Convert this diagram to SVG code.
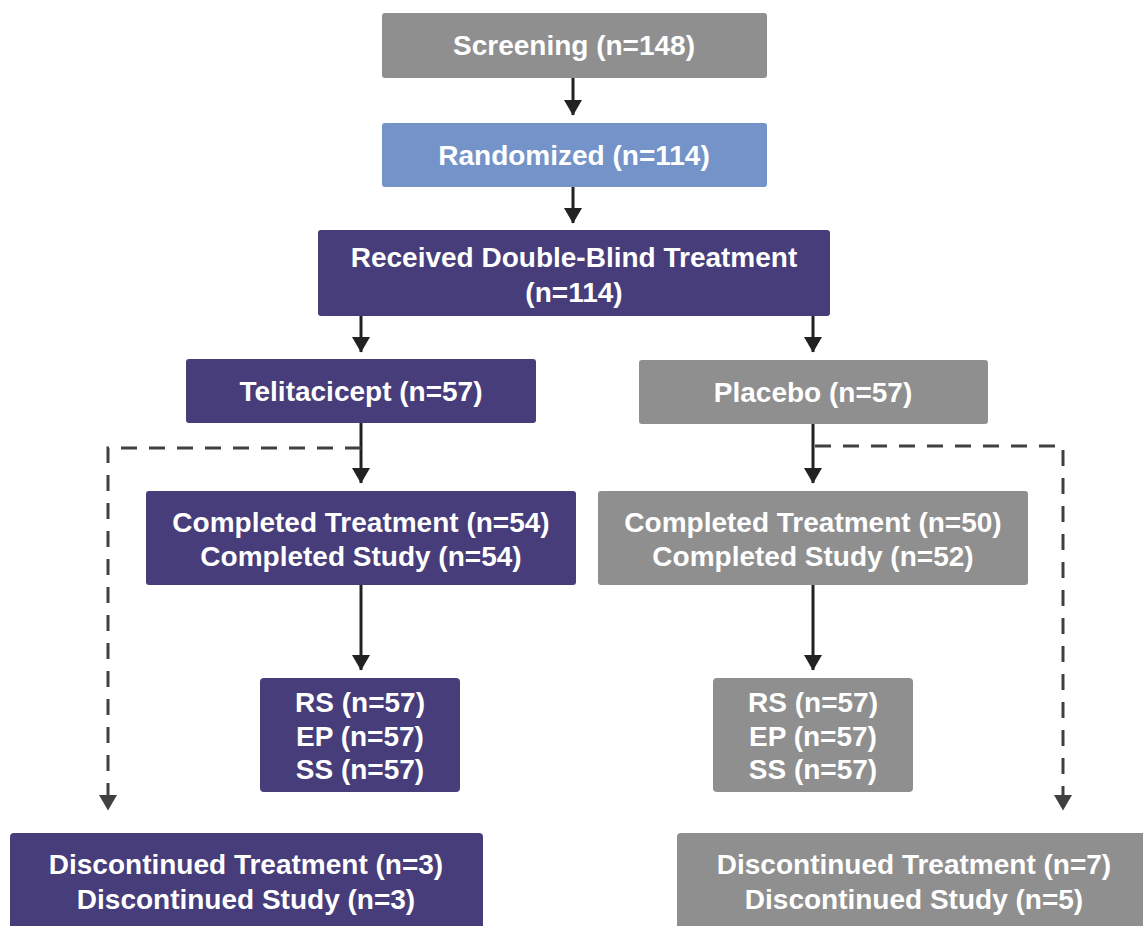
<svg xmlns="http://www.w3.org/2000/svg" width="1143" height="926" viewBox="0 0 1143 926">
  <defs>
    <style>
      .gray { fill: #8f8f8f; }
      .blue { fill: #7393c9; }
      .purple { fill: #463d7a; }
      .lbl { fill: #ffffff; font-family: "Liberation Sans", Arial, sans-serif; font-weight: bold; font-size: 28px; text-anchor: middle; }
      .solid { stroke: #222222; stroke-width: 3; fill: none; }
      .dash { stroke: #404040; stroke-width: 3; fill: none; stroke-dasharray: 16 12; }
    </style>
    <marker id="arrowSolid" markerWidth="6" markerHeight="6" refX="5" refY="3" orient="auto" markerUnits="strokeWidth">
      <path d="M0,0 L5.2,3 L0,6 Z" fill="#222222"/>
    </marker>
    <marker id="arrowDash" markerWidth="6" markerHeight="6" refX="5" refY="3" orient="auto" markerUnits="strokeWidth">
      <path d="M0,0 L5.2,3 L0,6 Z" fill="#404040"/>
    </marker>
  </defs>

  <rect width="1143" height="926" fill="#ffffff"/>

  <g id="connectors">
    <line class="solid" x1="573" y1="78" x2="573" y2="115" marker-end="url(#arrowSolid)"/>
    <line class="solid" x1="573" y1="187" x2="573" y2="223" marker-end="url(#arrowSolid)"/>
    <line class="solid" x1="361" y1="316" x2="361" y2="352" marker-end="url(#arrowSolid)"/>
    <line class="solid" x1="813" y1="316" x2="813" y2="352" marker-end="url(#arrowSolid)"/>
    <line class="solid" x1="361" y1="423" x2="361" y2="483" marker-end="url(#arrowSolid)"/>
    <line class="solid" x1="813" y1="424" x2="813" y2="483" marker-end="url(#arrowSolid)"/>
    <line class="solid" x1="361" y1="585" x2="361" y2="670" marker-end="url(#arrowSolid)"/>
    <line class="solid" x1="813" y1="585" x2="813" y2="670" marker-end="url(#arrowSolid)"/>
    <path class="dash" d="M361,448 H108 V810" marker-end="url(#arrowDash)"/>
    <path class="dash" d="M815,446 H1063 V810" marker-end="url(#arrowDash)"/>
  </g>

  <g id="screening">
    <rect class="gray" x="382" y="13" width="385" height="65" rx="3"/>
    <text class="lbl" x="574" y="55">Screening (n=148)</text>
  </g>

  <g id="randomized">
    <rect class="blue" x="382" y="123" width="385" height="64" rx="3"/>
    <text class="lbl" x="574" y="165">Randomized (n=114)</text>
  </g>

  <g id="double-blind">
    <rect class="purple" x="318" y="230" width="512" height="86" rx="3"/>
    <text class="lbl" x="574" y="267">Received Double-Blind Treatment</text>
    <text class="lbl" x="574" y="302">(n=114)</text>
  </g>

  <g id="telitacicept">
    <rect class="purple" x="186" y="359" width="350" height="64" rx="3"/>
    <text class="lbl" x="361" y="401">Telitacicept (n=57)</text>
  </g>

  <g id="placebo">
    <rect class="gray" x="639" y="360" width="349" height="64" rx="3"/>
    <text class="lbl" x="813" y="402">Placebo (n=57)</text>
  </g>

  <g id="completed-telitacicept">
    <rect class="purple" x="146" y="491" width="430" height="94" rx="3"/>
    <text class="lbl" x="361" y="532">Completed Treatment (n=54)</text>
    <text class="lbl" x="361" y="566">Completed Study (n=54)</text>
  </g>

  <g id="completed-placebo">
    <rect class="gray" x="598" y="491" width="430" height="94" rx="3"/>
    <text class="lbl" x="813" y="532">Completed Treatment (n=50)</text>
    <text class="lbl" x="813" y="566">Completed Study (n=52)</text>
  </g>

  <g id="sets-telitacicept">
    <rect class="purple" x="260" y="678" width="200" height="114" rx="4"/>
    <text class="lbl" x="360" y="712">RS (n=57)</text>
    <text class="lbl" x="360" y="746">EP (n=57)</text>
    <text class="lbl" x="360" y="779">SS (n=57)</text>
  </g>

  <g id="sets-placebo">
    <rect class="gray" x="713" y="678" width="200" height="114" rx="4"/>
    <text class="lbl" x="813" y="712">RS (n=57)</text>
    <text class="lbl" x="813" y="746">EP (n=57)</text>
    <text class="lbl" x="813" y="779">SS (n=57)</text>
  </g>

  <g id="discontinued-telitacicept">
    <rect class="purple" x="10" y="833" width="473" height="100" rx="4"/>
    <text class="lbl" x="246" y="874">Discontinued Treatment (n=3)</text>
    <text class="lbl" x="246" y="909">Discontinued Study (n=3)</text>
  </g>

  <g id="discontinued-placebo">
    <rect class="gray" x="677" y="833" width="480" height="100" rx="4"/>
    <text class="lbl" x="914" y="874">Discontinued Treatment (n=7)</text>
    <text class="lbl" x="914" y="909">Discontinued Study (n=5)</text>
  </g>
</svg>
